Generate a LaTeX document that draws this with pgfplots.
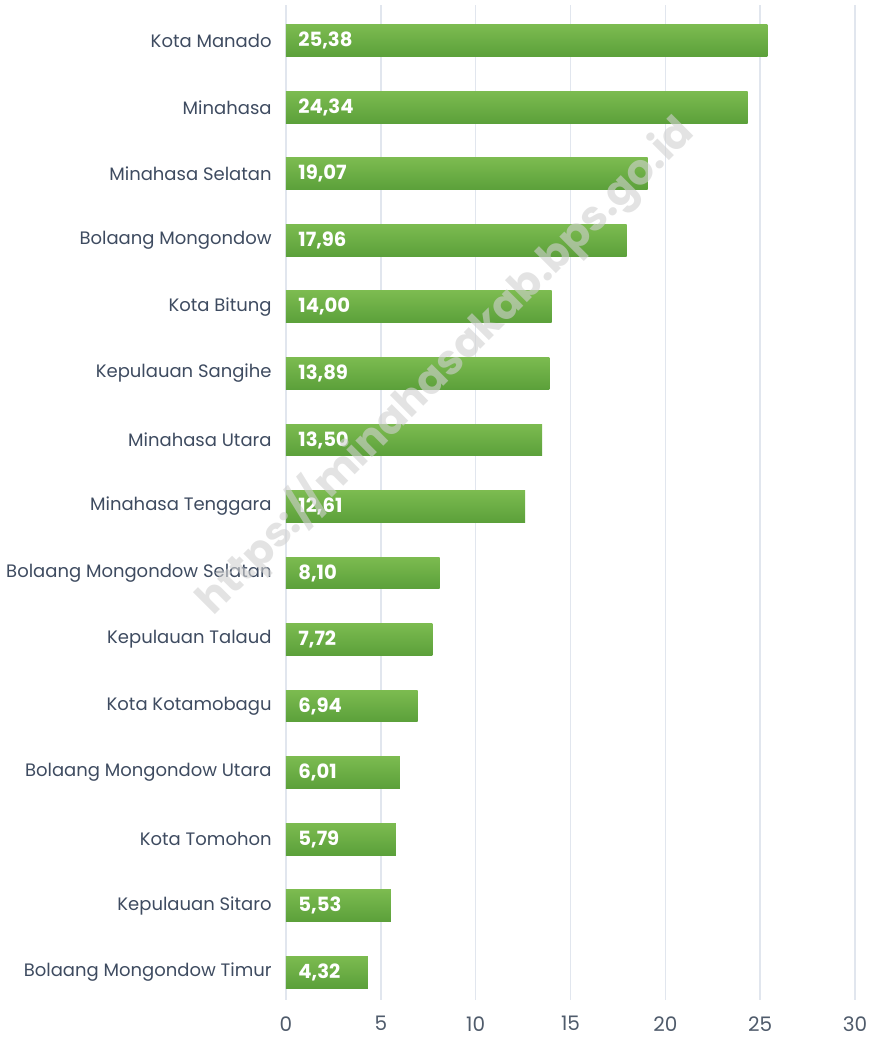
\documentclass[border=0pt]{standalone}
\usepackage{pgfplots}
\usepackage{pgfplotstable}
\pgfplotsset{compat=1.18}
\usepackage{fontspec}
\setmainfont{Poppins}
\usetikzlibrary{calc}
\definecolor{barTop}{HTML}{7CBB50}
\definecolor{barBot}{HTML}{5BA03A}
\definecolor{lab}{HTML}{3E4B60}
\definecolor{tickc}{HTML}{4F5B6B}
\definecolor{gridc}{HTML}{E1E6EE}
\pgfplotstableread{
y v lab
0 25.38 25,38
1 24.34 24,34
2 19.07 19,07
3 17.96 17,96
4 14.00 14,00
5 13.89 13,89
6 13.50 13,50
7 12.61 12,61
8 8.10 8,10
9 7.72 7,72
10 6.94 6,94
11 6.01 6,01
12 5.79 5,79
13 5.53 5,53
14 4.32 4,32
}\data
\begin{document}
\begin{tikzpicture}
\begin{axis}[name=ax, scale only axis, width=284.5pt, height=497.5pt,
  xmin=0, xmax=30, ymin=-0.54, ymax=14.42, y dir=reverse,
  xtick={0,5,...,30}, ytick={0,...,14},
  yticklabels={Kota Manado, Minahasa, Minahasa Selatan, Bolaang Mongondow, Kota Bitung, Kepulauan Sangihe, Minahasa Utara, Minahasa Tenggara, Bolaang Mongondow Selatan, Kepulauan Talaud, Kota Kotamobagu, Bolaang Mongondow Utara, Kota Tomohon, Kepulauan Sitaro, Bolaang Mongondow Timur},
  axis line style={draw=none}, major tick length=0pt,
  xmajorgrids, major grid style={gridc, line width=0.8pt},
  /pgf/number format/assume math mode=true,
  yticklabel style={inner sep=0pt, xshift=-7pt, text=lab, font=\fontsize{9}{10}\selectfont},
  xticklabel style={inner sep=0pt, yshift=-8pt, text=tickc, font=\fontsize{10}{11}\selectfont},
  clip=false]
\pgfplotsinvokeforeach{0,...,14}{
\addplot[xbar, bar width=0.48, bar shift=0pt, draw=none, shade, top color=barTop, bottom color=barBot,
  restrict y to domain=#1:#1] table[x=v, y=y]{\data};
}
\addplot[draw=none, mark=none, nodes near coords, point meta=explicit symbolic,
  nodes near coords style={anchor=west, xshift=6pt, text=white, inner sep=0pt, font=\bfseries\fontsize{9.8}{11}\selectfont}]
  table[x expr=0, y=y, meta=lab]{\data};
\end{axis}
\node[rotate=45, text=black!18, opacity=0.6, font=\bfseries\fontsize{21}{24}\selectfont] at ($(ax.north west)+(79.5pt,-180pt)$) {https://minahasakab.bps.go.id};
\pgfresetboundingbox
\path[use as bounding box] ($(ax.south west)+(-143pt,-18.5pt)$) rectangle ($(ax.north east)+(9pt,2.5pt)$);
\end{tikzpicture}
\end{document}
